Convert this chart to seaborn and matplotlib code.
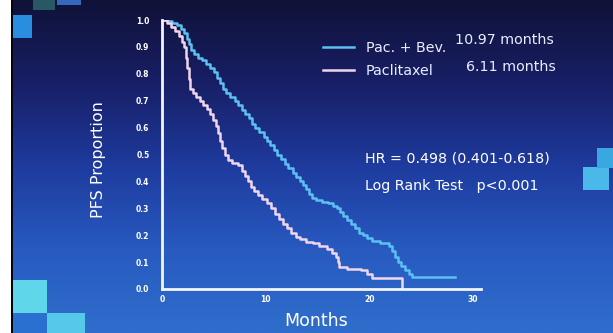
import numpy as np
import pandas as pd
import matplotlib
matplotlib.use("Agg")
import matplotlib.pyplot as plt
from matplotlib.patches import Rectangle
from matplotlib.lines import Line2D
from matplotlib.colors import LinearSegmentedColormap
import seaborn as sns

# ---------------- data ----------------
bev_time = [0, 0.6, 1.0, 1.4, 1.8, 2.1, 2.4, 2.6, 2.8, 3.1, 3.5, 3.9, 4.2, 4.6, 5.0,
            5.3, 5.6, 5.9, 6.2, 6.6, 7.0, 7.3, 7.7, 8.0, 8.4, 8.7, 9.0, 9.4, 9.8,
            10.1, 10.4, 10.8, 11.1, 11.5, 11.9, 12.2, 12.6, 12.9, 13.3, 13.6, 13.9,
            14.2, 14.5, 14.9, 15.4, 16.0, 16.5, 16.9, 17.2, 17.5, 17.9, 18.2, 18.6,
            19.0, 19.4, 19.8, 20.3, 21.0, 21.9, 22.2, 22.5, 22.8, 23.1, 23.5, 23.8,
            24.1, 28.3]
bev_surv = [1.0, 0.995, 0.99, 0.98, 0.965, 0.95, 0.93, 0.91, 0.89, 0.875, 0.86, 0.85,
            0.835, 0.82, 0.805, 0.785, 0.765, 0.745, 0.73, 0.715, 0.70, 0.685, 0.665,
            0.65, 0.635, 0.615, 0.60, 0.585, 0.565, 0.55, 0.535, 0.515, 0.50, 0.485,
            0.465, 0.45, 0.43, 0.415, 0.40, 0.385, 0.37, 0.355, 0.34, 0.33, 0.325,
            0.32, 0.31, 0.30, 0.285, 0.27, 0.255, 0.24, 0.225, 0.21, 0.20, 0.19, 0.18,
            0.17, 0.16, 0.14, 0.12, 0.10, 0.085, 0.07, 0.055, 0.045, 0.045]

pac_time = [0, 0.5, 0.9, 1.3, 1.6, 1.9, 2.1, 2.3, 2.45, 2.6, 2.75, 3.0, 3.3, 3.7, 4.0,
            4.3, 4.6, 4.9, 5.2, 5.4, 5.6, 5.8, 6.1, 6.4, 6.8, 7.3, 7.7, 8.0, 8.3, 8.6,
            8.9, 9.3, 9.7, 10.1, 10.5, 10.9, 11.3, 11.7, 12.1, 12.5, 12.9, 13.3, 13.9,
            14.6, 15.2, 15.9, 16.4, 16.8, 17.0, 17.1, 17.9, 19.2, 19.8, 20.3, 23.2, 23.2]
pac_surv = [1.0, 0.99, 0.975, 0.96, 0.94, 0.92, 0.90, 0.86, 0.82, 0.78, 0.745, 0.73,
            0.715, 0.70, 0.685, 0.67, 0.65, 0.63, 0.605, 0.58, 0.55, 0.525, 0.50, 0.48,
            0.47, 0.46, 0.44, 0.42, 0.40, 0.38, 0.365, 0.35, 0.335, 0.32, 0.30, 0.28,
            0.26, 0.24, 0.225, 0.21, 0.195, 0.185, 0.175, 0.17, 0.16, 0.15, 0.135, 0.12,
            0.10, 0.08, 0.075, 0.07, 0.055, 0.04, 0.0, 0.0]

groups = ["Pac. + Bev.", "Paclitaxel"]
medians = ["10.97 months", "6.11 months"]
x_ticks = [0, 10, 20, 30]
y_ticks = [0.0, 0.1, 0.2, 0.3, 0.4, 0.5, 0.6, 0.7, 0.8, 0.9, 1.0]
hr_text = "HR = 0.498 (0.401-0.618)"
lr_text = "Log Rank Test   p<0.001"

df = pd.concat([
    pd.DataFrame({"Months": bev_time, "PFS": bev_surv, "Group": groups[0]}),
    pd.DataFrame({"Months": pac_time, "PFS": pac_surv, "Group": groups[1]}),
], ignore_index=True)

# ---------------- figure ----------------
W, H = 613, 333
fig = plt.figure(figsize=(W / 100, H / 100), dpi=100)

# slide background gradient
bg = fig.add_axes([0, 0, 1, 1], zorder=0)
cmap = LinearSegmentedColormap.from_list(
    "slide", ["#101238", "#181f66", "#1e3b9e", "#285ac0", "#2f6ecc"])
grad = np.linspace(0, 1, 256).reshape(-1, 1)
bg.imshow(grad, aspect="auto", cmap=cmap, extent=[0, 1, 0, 1], origin="upper")
bg.set_xlim(0, 1)
bg.set_ylim(0, 1)
bg.axis("off")

def px_rect(x, y, w, h, color, alpha=1.0):
    bg.add_patch(Rectangle((x / W, 1 - (y + h) / H), w / W, h / H,
                           facecolor=color, edgecolor="none", alpha=alpha,
                           transform=bg.transAxes))

# decorative squares
px_rect(13, 15, 19, 23, "#2a8ee0")
px_rect(33, 0, 22, 10, "#2f6a70", 0.8)
px_rect(57, 0, 24, 5, "#3c7ee0", 0.8)
px_rect(13, 280, 34, 33, "#5fd6ea")
px_rect(47, 313, 38, 20, "#56c8ea")
px_rect(13, 313, 34, 20, "#2a70d0")
px_rect(583, 167, 26, 23, "#4ab8e8")
px_rect(597, 148, 16, 20, "#3aa8e0")
# white strip and dark edge at left
px_rect(0, 0, 11, H, "#ffffff")
px_rect(11, 0, 2, H, "#050510")

# main axes
x0, x1 = 162, 481
ytop, ybot = 20, 289
ax = fig.add_axes([x0 / W, 1 - ybot / H, (x1 - x0) / W, (ybot - ytop) / H], zorder=2)
ax.patch.set_alpha(0)

palette = {groups[0]: "#5cc0f2", groups[1]: "#f0d6ec"}
sns.lineplot(data=df, x="Months", y="PFS", hue="Group", palette=palette,
             drawstyle="steps-post", estimator=None, sort=False,
             linewidth=1.8, ax=ax, legend=False)

ax.set_xlim(0, 30.8)
ax.set_ylim(0, 1.0)
ax.set_xticks(x_ticks)
ax.set_xticklabels([str(t) for t in x_ticks])
ax.set_yticks(y_ticks)
ax.set_yticklabels([f"{v:.1f}" for v in y_ticks])
ax.tick_params(length=0, colors="white", labelsize=5.5, pad=9)
for lab in ax.get_xticklabels() + ax.get_yticklabels():
    lab.set_fontweight("bold")
ax.tick_params(axis="x", pad=4)
for s in ["top", "right"]:
    ax.spines[s].set_visible(False)
for s in ["left", "bottom"]:
    ax.spines[s].set_color("#f4f4ff")
    ax.spines[s].set_linewidth(2)
ax.grid(False)
ax.set_xlabel("")
ax.set_ylabel("")

# axis titles
fig.text(98 / W, 1 - 160 / H, "PFS Proportion", rotation=90, color="white",
         fontsize=11.5, ha="center", va="center")
fig.text(316 / W, 1 - 321 / H, "Months", color="white", fontsize=12.5,
         ha="center", va="center")

# legend
fs = 10.3
handles = [Line2D([], [], color=palette[g], linewidth=1.8) for g in groups]
leg = fig.legend(handles, groups, loc="upper left",
                 bbox_to_anchor=(310 / W, 1 - 28 / H), frameon=False,
                 handlelength=2.2, handletextpad=0.8, labelspacing=0.62,
                 prop={"size": fs}, labelcolor="#e8eeff")
for i, m in enumerate(medians):
    fig.text(455 / W if i == 0 else 466 / W, 1 - (40 + 27 * i) / H, m,
             color="#e8eeff", fontsize=fs, ha="left", va="center")

fig.text(365 / W, 1 - 158 / H, hr_text, color="white", fontsize=fs,
         ha="left", va="center")
fig.text(365 / W, 1 - 186 / H, lr_text, color="white", fontsize=fs,
         ha="left", va="center")

fig.savefig("out.png", dpi=100)
